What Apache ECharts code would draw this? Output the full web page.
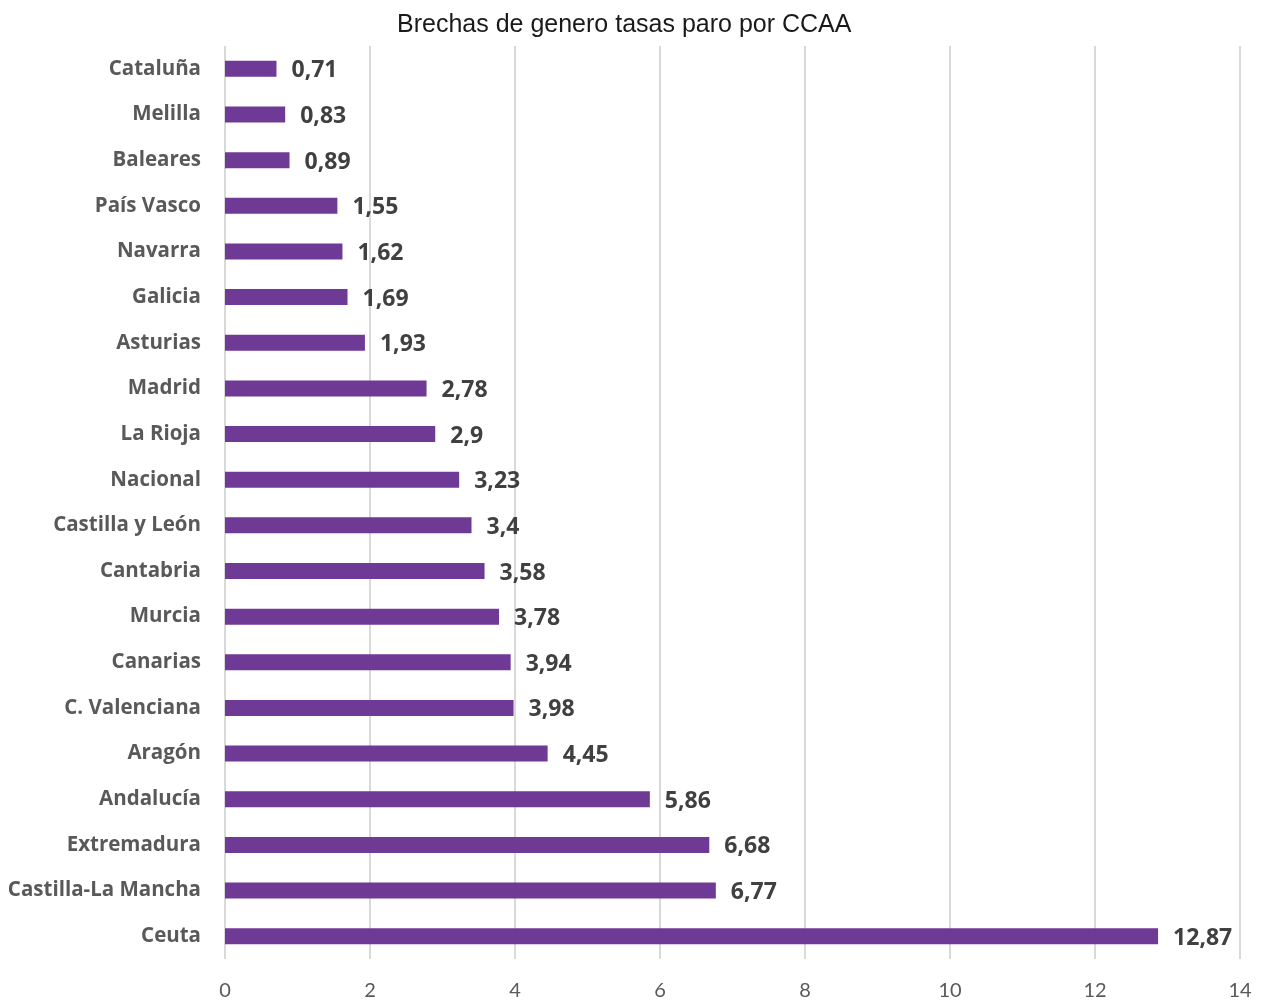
<!DOCTYPE html>
<html>
<head>
<meta charset="utf-8">
<script src="https://cdn.jsdelivr.net/npm/echarts@6/dist/echarts.min.js"></script>
<style>html,body{margin:0;padding:0;background:#fff;}#c{width:1261px;height:1001px;}</style>
</head>
<body>
<div id="c"></div>
<script>
const categories = ["Cataluña","Melilla","Baleares","País Vasco","Navarra","Galicia","Asturias","Madrid","La Rioja","Nacional","Castilla y León","Cantabria","Murcia","Canarias","C. Valenciana","Aragón","Andalucía","Extremadura","Castilla-La Mancha","Ceuta"];
const values = [0.71,0.83,0.89,1.55,1.62,1.69,1.93,2.78,2.9,3.23,3.4,3.58,3.78,3.94,3.98,4.45,5.86,6.68,6.77,12.87];
const xTicks = [0,2,4,6,8,10,12,14];

const chart = echarts.init(document.getElementById('c'));
chart.setOption({
  animation: false,
  title: {
    text: 'Brechas de genero tasas paro por CCAA',
    left: 392, top: 8,
    textStyle: {fontFamily: 'Liberation Sans, Arial, sans-serif', fontSize: 25, fontWeight: 'normal', color: '#1a1a1a'}
  },
  grid: {left: 225, right: 21, top: 46, bottom: 42},
  xAxis: {
    type: 'value', min: xTicks[0], max: xTicks[xTicks.length-1], interval: 2,
    axisLine: {show: false}, axisTick: {show: false},
    axisLabel: {fontFamily: 'Lato, sans-serif', fontSize: 20, color: '#595959', margin: 22},
    splitLine: {show: true, lineStyle: {color: '#d9d9d9', width: 2}}
  },
  yAxis: {
    type: 'category', data: categories, inverse: true,
    axisLine: {show: false}, axisTick: {show: false},
    axisLabel: {fontFamily: 'Open Sans, sans-serif', fontSize: 20.5, fontWeight: 'bold', color: '#595959', margin: 24}
  },
  series: [{
    type: 'bar', data: values, barWidth: 16,
    itemStyle: {color: '#6f3996'},
    label: {
      show: true, position: 'right', distance: 15, offset: [0, 2],
      fontFamily: 'Open Sans, sans-serif', fontSize: 23, fontWeight: 'bold', color: '#404040',
      formatter: p => String(p.value).replace('.', ',')
    }
  }]
});
</script>
</body>
</html>
